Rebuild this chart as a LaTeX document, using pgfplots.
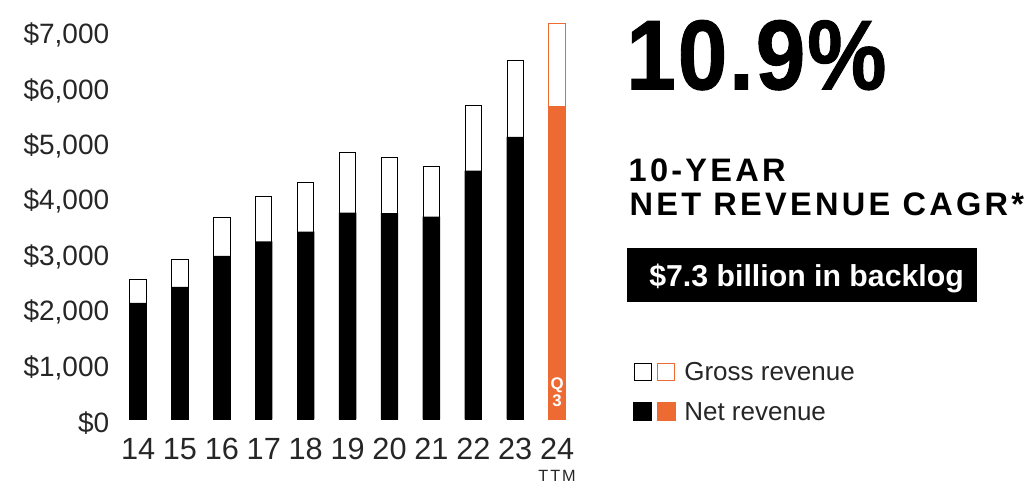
\documentclass[border=0pt]{standalone}
\usepackage{fontspec}
\setmainfont{Liberation Sans}
\usepackage{pgfplots}
\pgfplotsset{compat=1.18}
\definecolor{orangeC}{RGB}{238,106,51}
\definecolor{txt}{RGB}{38,38,38}
\begin{document}
\begin{tikzpicture}
\useasboundingbox (0,0) rectangle (776.25pt,366pt);
\begin{axis}[
  at={(84.7pt,51.5pt)}, anchor=south west,
  scale only axis, width=352pt, height=299.2pt,
  xmin=-0.6, xmax=10.6, ymin=0, ymax=7200,
  axis line style={draw=none},
  major tick length=0pt,
  xtick={0,1,2,3,4,5,6,7,8,9,10},
  xticklabels={14,15,16,17,18,19,20,21,22,23,24},
  ytick={0,1000,2000,3000,4000,5000,6000,7000},
  yticklabels={\$0,{\$1,000},{\$2,000},{\$3,000},{\$4,000},{\$5,000},{\$6,000},{\$7,000}},
  /pgf/number format/assume math mode=true,
  tick label style={text=txt},
  xticklabel style={font=\fontsize{23pt}{23pt}\selectfont, anchor=north, inner sep=0pt, yshift=-13.8pt},
  yticklabel style={font=\fontsize{21pt}{21pt}\selectfont, anchor=east, inner sep=0pt, xshift=-2.6pt, yshift=-2.7pt},
  legend cell align=left,
  legend style={at={(1.1089,0.1436)}, anchor=north west, draw=none, fill=none,
    inner sep=0pt, outer sep=0pt, row sep=15.5pt,
    nodes={inner sep=0pt, anchor=base west, text height=14pt, text depth=0pt,
      font=\fontsize{19.5pt}{19.5pt}\selectfont, text=txt},
    /tikz/every odd column/.append style={column sep=6.6pt}},
]
% gross revenue (outline)
\addplot[ybar, bar shift=0pt, bar width=12.25pt, draw=black, line width=0.75pt, fill=white, forget plot]
  coordinates {(0,2520) (1,2880) (2,3640) (3,4020) (4,4280) (5,4820) (6,4720) (7,4570) (8,5670) (9,6470)};
% net revenue (filled)
\addplot[ybar, bar shift=0pt, bar width=13pt, draw=none, fill=black, forget plot]
  coordinates {(0,2100) (1,2390) (2,2950) (3,3210) (4,3390) (5,3730) (6,3720) (7,3660) (8,4490) (9,5100)};
% 24 TTM
\addplot[ybar, bar shift=0pt, bar width=12.25pt, draw=orangeC, line width=0.75pt, fill=white, forget plot]
  coordinates {(10,7150)};
\addplot[ybar, bar shift=0pt, bar width=13pt, draw=none, fill=orangeC, forget plot]
  coordinates {(10,5660)};
\addlegendimage{legend image code/.code={
  \draw[black, line width=0.75pt, fill=white] (0.375pt,0.375pt) rectangle (13.125pt,13.125pt);
  \draw[orangeC, line width=0.75pt, fill=white] (18.075pt,0.375pt) rectangle (30.825pt,13.125pt);}}
\addlegendentry{Gross revenue}
\addlegendimage{legend image code/.code={
  \fill[black] (0pt,0pt) rectangle (13.5pt,13.5pt);
  \fill[orangeC] (17.7pt,0pt) rectangle (31.2pt,13.5pt);}}
\addlegendentry{Net revenue}
\node[white, font=\bfseries\fontsize{12.6pt}{12.6pt}\selectfont, anchor=base, yshift=22.5pt, inner sep=0pt] at (axis cs:10,0) {Q};
\node[white, font=\bfseries\fontsize{12.6pt}{12.6pt}\selectfont, anchor=base, yshift=9.8pt, inner sep=0pt] at (axis cs:10,0) {3};
\coordinate (t24) at (axis cs:10,0);
\end{axis}
\node[anchor=base, inner sep=0pt, text=txt, font=\fontsize{12.2pt}{12.2pt}\selectfont] at ([yshift=-46.8pt]t24) {\addfontfeature{LetterSpace=12}TTM};
\node[anchor=base west, inner sep=0pt] at (469.5pt,299pt) {\scalebox{0.9}[1]{\fontsize{74.4pt}{74.4pt}\selectfont\bfseries\addfontfeature{FakeBold=1,LetterSpace=2}10.9\%}};
\node[anchor=base west, inner sep=0pt, font=\bfseries\fontsize{24.4pt}{24.4pt}\selectfont] at (471.3pt,229.7pt) {\addfontfeature{LetterSpace=10}10-YEAR};
\node[anchor=base west, inner sep=0pt, font=\bfseries\fontsize{24.4pt}{24.4pt}\selectfont] at (472pt,204pt) {\addfontfeature{LetterSpace=10}NET REVENUE CAGR*};
\fill[black] (470pt,139.3pt) rectangle (732.5pt,179.8pt);
\node[anchor=base west, inner sep=0pt, text=white, font=\bfseries\fontsize{22.7pt}{22.7pt}\selectfont] at (486.8pt,151pt) {\$7.3 billion in backlog};
\end{tikzpicture}
\end{document}
